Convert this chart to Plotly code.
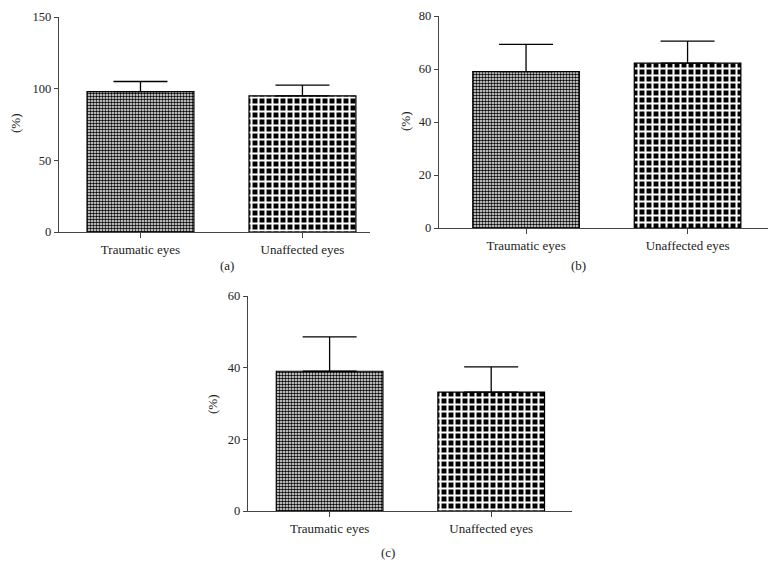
import plotly.graph_objects as go

categories = ["Traumatic eyes", "Unaffected eyes"]

# values (mean, upper SD)
a_values = [98, 95]
a_errors = [7, 7.5]
b_values = [59, 62.2]
b_errors = [10.3, 8.3]
c_values = [39, 33.2]
c_errors = [9.6, 7]

# the page body keeps its default 8px margin, so lay out in a 761x564 box
W, H, OFF = 761, 564, 8


def px_x(a, b):
    return [(a - OFF) / W, (b - OFF) / W]


def px_y(top, bottom):
    return [1 - (bottom - OFF) / H, 1 - (top - OFF) / H]


panels = [
    # values, errors, y max, y tick step, x domain, y domain, x range, label
    (a_values, a_errors, 150, 50, px_x(59, 370), px_y(17, 232), [-0.503, 1.417], "(a)"),
    (b_values, b_errors, 80, 20, px_x(439, 768), px_y(16, 228), [-0.539, 1.498], "(b)"),
    (c_values, c_errors, 60, 20, px_x(248, 572), px_y(296, 511), [-0.505, 1.50], "(c)"),
]

# fine checker for the first bar, coarse checker for the second
patterns = [
    dict(shape=".", size=3, solidity=0.55, fgcolor="black", bgcolor="white", fillmode="replace"),
    dict(shape="+", size=7, solidity=0.5, fgcolor="white", bgcolor="black", fillmode="replace"),
]

font = dict(family="Liberation Serif", size=13, color="#222")
num_font = dict(family="Liberation Serif", size=12.5, color="#222")
axis_col = "#444"

fig = go.Figure()
label_pos = [(227, 265), (578, 265), (388, 552)]
ytitle_pos = [(15, 123), (405, 121), (212, 404)]

for i, (vals, errs, ymax, step, xd, yd, xr, lab) in enumerate(panels):
    n = "" if i == 0 else str(i + 1)
    for k in range(2):
        fig.add_trace(go.Bar(
            x=[k], y=[vals[k]], width=0.66,
            xaxis="x" + n, yaxis="y" + n,
            marker=dict(color="white", line=dict(color="black", width=1.2),
                        pattern=patterns[k]),
            error_y=dict(type="data", symmetric=False, array=[errs[k]], arrayminus=[0],
                         color="black", thickness=1.3, width=27),
            showlegend=False,
        ))
    fig.layout["xaxis" + n] = dict(
        domain=xd, range=xr, anchor="y" + n, tickvals=[0, 1], ticktext=categories,
        showline=True, linecolor=axis_col, linewidth=1.3, ticks="outside", ticklen=5,
        tickcolor=axis_col, showgrid=False, zeroline=False, tickfont=font,
        fixedrange=True, automargin=False, ticklabeloverflow="allow",
    )
    fig.layout["yaxis" + n] = dict(
        domain=yd, range=[0, ymax], anchor="x" + n, tickvals=list(range(0, ymax + 1, step)),
        showline=True, linecolor=axis_col, linewidth=1.3, ticks="outside", ticklen=4,
        tickcolor=axis_col, showgrid=False, zeroline=False, tickfont=num_font,
        fixedrange=True, automargin=False, ticklabeloverflow="allow",
    )
    lx, ly = label_pos[i]
    fig.add_annotation(x=(lx - OFF) / W, y=1 - (ly - OFF) / H, xref="paper", yref="paper",
                       xanchor="center", yanchor="middle",
                       text=lab, showarrow=False, font=font)
    tx, ty = ytitle_pos[i]
    fig.add_annotation(x=(tx - OFF) / W, y=1 - (ty - OFF) / H, xref="paper", yref="paper",
                       xanchor="center", yanchor="middle",
                       text="(%)", textangle=-90, showarrow=False, font=font)

fig.update_layout(
    width=W, height=H, margin=dict(l=0, r=0, t=0, b=0),
    plot_bgcolor="white", paper_bgcolor="white", barmode="overlay",
)

fig.write_html("out.html")
